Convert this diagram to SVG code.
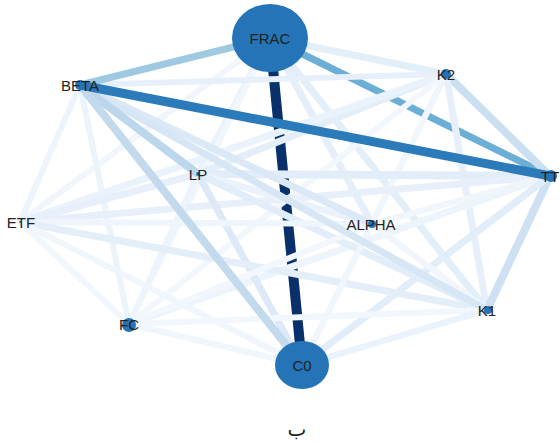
<svg xmlns="http://www.w3.org/2000/svg" width="560" height="444" viewBox="0 0 560 444">
<style>
.e{fill:none;stroke-linecap:butt}
.n{fill:#2474b7}
.t{font-family:"Liberation Sans",Arial,sans-serif;font-size:15px;fill:#222;text-anchor:middle;dominant-baseline:central}
</style>
<rect width="560" height="444" fill="#fff"/>
<g id="edges">
<line class="e" x1="270" y1="38" x2="302" y2="365" stroke="#08306b" stroke-width="10"/>
<line class="e" x1="270" y1="38" x2="550" y2="176" stroke="#6baed6" stroke-width="7"/>
<line class="e" x1="270" y1="38" x2="446" y2="74" stroke="#e2eef8" stroke-width="7"/>
<line class="e" x1="270" y1="38" x2="198" y2="174" stroke="#eaf2fb" stroke-width="7"/>
<line class="e" x1="270" y1="38" x2="20" y2="222" stroke="#f0f6fc" stroke-width="6"/>
<line class="e" x1="270" y1="38" x2="372" y2="224" stroke="#e5eff9" stroke-width="7"/>
<line class="e" x1="270" y1="38" x2="487" y2="310" stroke="#e2eef8" stroke-width="7"/>
<line class="e" x1="270" y1="38" x2="129" y2="324" stroke="#f0f6fc" stroke-width="6"/>
<line class="e" x1="80" y1="85" x2="446" y2="74" stroke="#e7f0fa" stroke-width="6"/>
<line class="e" x1="80" y1="85" x2="20" y2="222" stroke="#edf4fb" stroke-width="6"/>
<line class="e" x1="80" y1="85" x2="129" y2="324" stroke="#ebf3fb" stroke-width="6"/>
<line class="e" x1="446" y1="74" x2="550" y2="176" stroke="#cadff1" stroke-width="8"/>
<line class="e" x1="446" y1="74" x2="198" y2="174" stroke="#e4eef9" stroke-width="7"/>
<line class="e" x1="446" y1="74" x2="20" y2="222" stroke="#eaf2fb" stroke-width="7"/>
<line class="e" x1="446" y1="74" x2="372" y2="224" stroke="#f0f6fc" stroke-width="6"/>
<line class="e" x1="446" y1="74" x2="487" y2="310" stroke="#e7f0fa" stroke-width="7"/>
<line class="e" x1="446" y1="74" x2="129" y2="324" stroke="#f2f7fd" stroke-width="6"/>
<line class="e" x1="446" y1="74" x2="302" y2="365" stroke="#f0f6fc" stroke-width="6"/>
<line class="e" x1="550" y1="176" x2="198" y2="174" stroke="#e1edf8" stroke-width="8"/>
<line class="e" x1="550" y1="176" x2="20" y2="222" stroke="#e7f0fa" stroke-width="7"/>
<line class="e" x1="550" y1="176" x2="372" y2="224" stroke="#f0f6fc" stroke-width="6"/>
<line class="e" x1="550" y1="176" x2="487" y2="310" stroke="#cee1f2" stroke-width="8"/>
<line class="e" x1="550" y1="176" x2="129" y2="324" stroke="#edf4fb" stroke-width="7"/>
<line class="e" x1="550" y1="176" x2="302" y2="365" stroke="#e1edf8" stroke-width="7"/>
<line class="e" x1="198" y1="174" x2="20" y2="222" stroke="#e7f0fa" stroke-width="7"/>
<line class="e" x1="198" y1="174" x2="372" y2="224" stroke="#eaf2fb" stroke-width="7"/>
<line class="e" x1="198" y1="174" x2="487" y2="310" stroke="#e1edf8" stroke-width="7"/>
<line class="e" x1="198" y1="174" x2="129" y2="324" stroke="#edf4fb" stroke-width="6"/>
<line class="e" x1="198" y1="174" x2="302" y2="365" stroke="#dde9f6" stroke-width="7"/>
<line class="e" x1="20" y1="222" x2="372" y2="224" stroke="#eff5fc" stroke-width="6"/>
<line class="e" x1="20" y1="222" x2="487" y2="310" stroke="#e4eef9" stroke-width="7"/>
<line class="e" x1="20" y1="222" x2="129" y2="324" stroke="#f2f7fd" stroke-width="6"/>
<line class="e" x1="20" y1="222" x2="302" y2="365" stroke="#f0f6fc" stroke-width="6"/>
<line class="e" x1="372" y1="224" x2="487" y2="310" stroke="#f0f6fc" stroke-width="6"/>
<line class="e" x1="372" y1="224" x2="129" y2="324" stroke="#f2f7fd" stroke-width="6"/>
<line class="e" x1="372" y1="224" x2="302" y2="365" stroke="#f0f6fc" stroke-width="6"/>
<line class="e" x1="487" y1="310" x2="129" y2="324" stroke="#f2f7fd" stroke-width="6"/>
<line class="e" x1="487" y1="310" x2="302" y2="365" stroke="#eaf2fb" stroke-width="6"/>
<line class="e" x1="129" y1="324" x2="302" y2="365" stroke="#f0f6fc" stroke-width="6"/>
<line class="e" x1="80" y1="85" x2="372" y2="224" stroke="#dbe9f6" stroke-width="7"/>
<line class="e" x1="80" y1="85" x2="487" y2="310" stroke="#d6e6f4" stroke-width="7"/>
<line class="e" x1="80" y1="85" x2="198" y2="174" stroke="#bcd7eb" stroke-width="8"/>
<line class="e" x1="80" y1="85" x2="302" y2="365" stroke="#c3daed" stroke-width="8"/>
<line class="e" x1="270" y1="38" x2="80" y2="85" stroke="#9ecae1" stroke-width="7"/>
<line class="e" x1="80" y1="85" x2="550" y2="176" stroke="#2b7bba" stroke-width="9"/>
</g>
<g id="FRAC"><ellipse class="n" cx="270" cy="38" rx="38" ry="34"/><text class="t" x="270" y="38">FRAC</text></g>
<g id="BETA"><circle class="n" cx="80" cy="85" r="5"/><text class="t" x="80" y="85">BETA</text></g>
<g id="K2"><circle class="n" cx="446" cy="74" r="5"/><text class="t" x="446" y="74">K2</text></g>
<g id="TT"><circle class="n" cx="551" cy="176" r="6"/><text class="t" x="550" y="176">TT</text></g>
<g id="LP"><circle class="n" cx="198" cy="174" r="2"/><text class="t" x="198" y="174">LP</text></g>
<g id="ETF"><circle class="n" cx="20" cy="222" r="1"/><text class="t" x="21" y="222">ETF</text></g>
<g id="ALPHA"><circle class="n" cx="372" cy="224" r="4"/><text class="t" x="371" y="224">ALPHA</text></g>
<g id="K1"><circle class="n" cx="488" cy="310" r="4"/><text class="t" x="487" y="310">K1</text></g>
<g id="FC"><circle class="n" cx="129" cy="325" r="7"/><text class="t" x="129" y="324">FC</text></g>
<g id="C0"><ellipse class="n" cx="302" cy="365" rx="27" ry="24"/><text class="t" x="302" y="365">C0</text></g>
<text x="297" y="436" font-family="DejaVu Sans,sans-serif" font-size="20" fill="#222" text-anchor="middle">ب</text>
</svg>
